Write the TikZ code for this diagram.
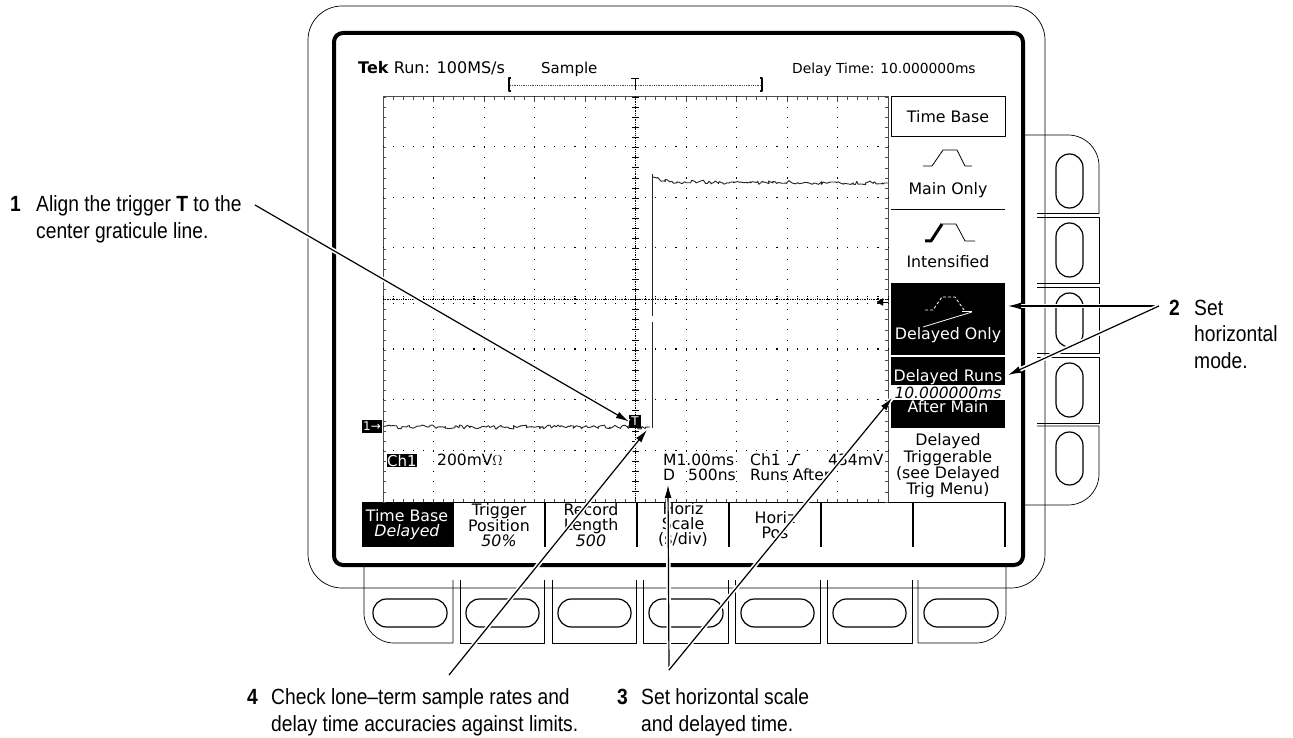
\documentclass[tikz,border=0pt]{standalone}
\usepackage{fontspec}
\setmainfont{Liberation Sans}[FakeStretch=0.875]
\newfontfamily\screenfont{DejaVu Sans}
\usetikzlibrary{decorations.pathmorphing,arrows.meta}
\tikzset{
  caption/.style={font=\fontsize{22}{26.5}\selectfont,inner sep=0pt,anchor=base west,align=left},
  number/.style={font=\fontsize{22}{26.5}\selectfont\bfseries,inner sep=0pt,anchor=base west},
  screen/.style={font=\screenfont\fontsize{15.5}{15}\selectfont,inner sep=0pt,anchor=base west},
  menu/.style={font=\screenfont\fontsize{15.8}{15}\selectfont,inner sep=0pt,anchor=center,align=center},
  inverse/.style={menu,text=white},
  shell/.style={draw=black,line width=0.7pt},
  key/.style={draw=black,line width=1.2pt,rounded corners=13.5pt},
  pointer/.style={black,->,line width=1.2pt,preaction={draw=white,line width=4.5pt,-}},
}
\begin{document}
\begin{tikzpicture}[>={Latex[length=13pt,width=7pt]},line join=bevel,x=1pt,y=-1pt]
\useasboundingbox (0,0) rectangle (1293,738);
%%
\draw [shell] (308,40) arc (180:270:34) -- (1011,6) arc (270:360:34) -- (1045,554) arc (0:90:34) -- (342,588) arc (90:180:34) -- cycle;
%
\draw [shell] (364,565) -- (364,613) arc (180:90:30) -- (453,643) -- (453,580);
\foreach \xa/\xb in {460/544,552/636,643/728,735/820,827/912} {
  \draw [shell] (\xa,580) -- (\xa,643) -- (\xb,643) -- (\xb,580);
}
\draw [shell] (918,580) -- (918,643) -- (976,643) arc (90:0:30) -- (1006,565);
\foreach \xa/\xb in {373/447,466/539,558/631,649/723,741/814,833/906,924/998} {
  \draw [key] (\xa,599) rectangle (\xb,627);
}
%
\draw [shell] (1023,135) -- (1068,135) arc (270:360:31) -- (1099,213.5) -- (1037,213.5);
\foreach \ya/\yb in {217/283.5,287/353,357/423} {
  \draw [shell] (1037,\ya) -- (1099,\ya) -- (1099,\yb) -- (1037,\yb);
}
\draw [shell] (1037,426) -- (1099,426) -- (1099,474) arc (0:90:31) -- (1023,505);
\foreach \ya/\yb in {154/208,223/277,293/347,363/417,432/485} {
  \draw [key] (1056,\ya) rectangle (1083,\yb);
}
%
\draw [fill=white,draw=black,line width=4pt,rounded corners=9pt] (334,33) rectangle (1023,565);
%% graticule
\draw [black!70,line width=1pt] (888,502) -- (888,97) -- (383,97) -- (383,502);
\draw [black,line width=1pt] (362,502) -- (1005,502);
\foreach \i in {0,...,50} {
  \pgfmathsetmacro{\gx}{383+\i*10.1}
  \draw [black!70,line width=0.7pt] (\gx,97) -- (\gx,100);
  \draw [black!70,line width=0.7pt] (\gx,502) -- (\gx,499);
  \foreach \j in {1,...,7} {
    \fill (\gx-0.5,97+\j*50.6-0.5) rectangle +(1.1,-1.1);
  }
  \fill (\gx-0.5,299) rectangle +(1.1,1.1);
  \fill (\gx-0.5,296) rectangle +(1.1,1.1);
  \fill (\gx-0.5,303) rectangle +(1.1,1.1);
}
\foreach \i in {0,...,40} {
  \pgfmathsetmacro{\gy}{97+\i*10.125}
  \draw [black!70,line width=0.7pt] (383,\gy) -- (386,\gy);
  \draw [black!70,line width=0.7pt] (888,\gy) -- (885,\gy);
  \foreach \j in {1,...,9} {
    \fill (383+\j*50.5-0.5,\gy-0.5) rectangle +(1.1,1.1);
  }
  \draw [black,line width=0.8pt] (632,\gy) -- (639,\gy);
}
\draw [black,line width=0.8pt,densely dotted] (635.5,97) -- (635.5,502);
\draw [black,line width=0.8pt,densely dotted] (383,299.5) -- (888,299.5);
\foreach \k in {1,...,4} {
  \draw [black!70,line width=1pt] (383+\k*50.5,97) -- (383+\k*50.5,102);
  \draw [black!70,line width=1pt] (635.5+\k*50.5,97) -- (635.5+\k*50.5,102);
}
%% trace
\pgfmathsetseed{41}
\draw [black!85,line width=0.9pt,decorate,decoration={random steps,segment length=2pt,amplitude=2pt}] (383,427) -- (650,427);
\draw [black!85,line width=1pt] (652,428) -- (652,322);
\draw [black!85,line width=1pt] (652,316) -- (652,174);
\draw [black!85,line width=0.9pt,decorate,decoration={random steps,segment length=2pt,amplitude=2pt}] (653,177) -- (670,182) -- (888,183);
%% record bar
\draw [black!70,line width=0.8pt,densely dotted] (510,85) -- (762,85);
\draw [black,line width=1.2pt] (511,78) -- (509,78) -- (509,91) -- (511,91);
\draw [black,line width=1.2pt] (760,78) -- (762,78) -- (762,91) -- (760,91);
\draw [black,line width=1pt] (631,78.5) -- (639,78.5) (635,78.5) -- (635,90);
%% readouts
\node (read_tek) at (358,74) [screen,font=\screenfont\fontsize{16}{16}\selectfont] {\textbf{Tek} Run: 100MS/s};
\node (read_mode) at (541,74) [screen,font=\screenfont\fontsize{15}{15}\selectfont] {Sample};
\node (read_delay) at (792,74) [screen,font=\screenfont\fontsize{13.8}{15}\selectfont] {Delay Time: 10.000000ms};
\node (mark_one) at (372,426.5) [inverse,fill=black,minimum width=20pt,minimum height=13pt,font=\screenfont\fontsize{12}{12}\selectfont] {1→};
\node (mark_trig) at (635,421.5) [inverse,fill=black,minimum width=12pt,minimum height=13pt,font=\screenfont\fontsize{12}{12}\selectfont] {T};
\node (read_chan) at (402,460.5) [inverse,fill=black,minimum width=30pt,minimum height=13pt,font=\screenfont\fontsize{15}{15}\selectfont] {Ch1};
\node (read_volt) at (437,465) [screen] {200mV$\Omega$};
\node (read_main) at (663,465) [screen] {M1.00ms};
\node (read_source) at (750,465) [screen] {Ch1};
\node (read_level) at (828,465) [screen] {434mV};
\node (read_d) at (663,480) [screen] {D};
\node (read_rate) at (688,480) [screen] {500ns};
\node (read_after) at (750,480) [screen] {Runs After};
\draw [black,line width=1.4pt] (788,464.5) -- (792,464.5) -- (796,454.5) -- (800,454.5);
\draw [black,fill=black] (877,302) -- (883,298.5) -- (883,305.5) -- cycle;
\draw [black,line width=1pt] (883,302) -- (888,302);
%% side menu
\node (side_base) at (948,117) [menu,draw=black,line width=1pt,minimum width=114pt,minimum height=40pt] {Time Base};
\draw [black,line width=0.8pt] (923,166) -- (932,166) -- (943,150) -- (957,150) -- (965,166) -- (972,166);
\node (side_main) at (948,190) [menu] {Main Only};
\draw [black,line width=1pt] (891,210) -- (1005,210);
\draw [black,line width=3pt] (925,241) -- (931,241) -- (942,224);
\draw [black,line width=0.8pt] (942,224) -- (956,224) -- (965,241) -- (975,241);
\node (side_inten) at (948,262) [menu] {Intensified};
\node (side_only) at (948,319) [fill=black,minimum width=114pt,minimum height=72pt] {};
\draw [white,line width=0.8pt,densely dashed] (925,310) -- (933,310) -- (942,297) -- (955,297) -- (964,310);
\draw [white,line width=0.8pt] (923,327) -- (972,312);
\draw [white,line width=0.8pt] (962,311) -- (972,311);
\node (side_only_text) at (948,335) [inverse] {Delayed Only};
\node (side_runs) at (948,392.5) [fill=black,minimum width=114pt,minimum height=71pt] {};
\node (side_time) at (948,392.5) [menu,fill=white,minimum width=114pt,minimum height=15pt,font=\screenfont\itshape\fontsize{15.5}{15}\selectfont] {10.000000ms};
\node (side_runs_text) at (948,377) [inverse] {Delayed Runs};
\node (side_after) at (948,407) [inverse] {After Main};
\node (side_trig) at (948,466) [menu] {Delayed\\Triggerable\\(see Delayed\\Trig Menu)};
%% bottom menu
\foreach \x in {453,545,637,729,821,913,1005} {
  \draw [black,line width=1.2pt] (\x,502) -- (\x,547);
}
\node (low_base) at (407,525) [inverse,fill=black,minimum width=90pt,minimum height=44pt] {Time Base\\\textit{Delayed}};
\node (low_trig) at (499,525) [menu] {Trigger\\Position\\\textit{50\%}};
\node (low_rec) at (591,525) [menu] {Record\\Length\\\textit{500}};
\node (low_scale) at (683,525) [menu] {Horiz\\Scale\\(s/div)};
\node (low_pos) at (775,525) [menu] {Horiz\\Pos};
%% captions
\node (step_1) at (10,212) [number] {1};
\node (text_1) at (36,238) [caption] {Align the trigger \textbf{T} to the\\center graticule line.};
\node (step_2) at (1169,315) [number] {2};
\node (text_2) at (1194,368) [caption] {Set\\horizontal\\mode.};
\node (step_3) at (617,704) [number] {3};
\node (text_3) at (641,731) [caption] {Set horizontal scale\\and delayed time.};
\node (step_4) at (247,704) [number] {4};
\node (text_4) at (271,731) [caption] {Check lone--term sample rates and\\delay time accuracies against limits.};
%% pointers
\coordinate (from_1) at (255,205);
\coordinate (fork_2) at (1159,306);
\coordinate (fork_3) at (669,670);
\coordinate (from_4) at (449,675);
\coordinate (to_2a) at (1008,306);
\coordinate (to_2b) at (1008,375);
\coordinate (to_3a) at (668,485);
\coordinate (to_3b) at (892,398);
\coordinate (to_4) at (647,430);
\draw [pointer] (from_1) -- (mark_trig.west);
\draw [pointer] (fork_2) -- (to_2a);
\draw [pointer] (fork_2) -- (to_2b);
\draw [pointer] (fork_3) -- (to_3a);
\draw [pointer] (fork_3) -- (to_3b);
\draw [pointer] (from_4) -- (to_4);
%
\end{tikzpicture}
\end{document}
